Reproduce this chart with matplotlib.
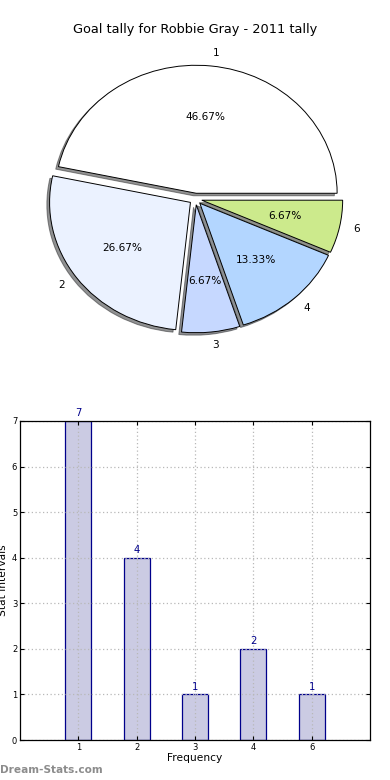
"""Goal tally pie + bar chart (Robbie Gray, 2011)."""

import matplotlib

matplotlib.use("Agg")
import matplotlib.pyplot as plt


LABELS = ["1", "2", "3", "4", "6"]
COUNTS = [7, 4, 1, 2, 1]
PIE_COLORS = ["#ffffff", "#ebf2ff", "#c6d8ff", "#b3d6ff", "#ccea8c"]
EXPLODE = [0.045, 0.045, 0.045, 0.045, 0.045]
Y_TICKS = [0, 1, 2, 3, 4, 5, 6, 7]

TITLE = "Goal tally for Robbie Gray - 2011 tally"
NAVY = "#00008b"

fig = plt.figure(figsize=(3.9, 7.8), dpi=100)

# pie (stretched like the original, not circular)
ax_pie = fig.add_axes([0.05, 1 - 359 / 780, 0.903, 320 / 780])
wedges, texts, autotexts = ax_pie.pie(
    COUNTS,
    labels=LABELS,
    colors=PIE_COLORS,
    explode=EXPLODE,
    autopct="%1.2f%%",
    shadow={"ox": -0.014, "oy": -0.014, "shade": 0.85},
    startangle=0,
    wedgeprops={"edgecolor": "black", "linewidth": 0.7},
    textprops={"fontsize": 7.6},
)
ax_pie.set_aspect("auto")
ax_pie.set_xlim(-1.25, 1.25)
ax_pie.set_ylim(-1.25, 1.25)
fig.text(0.5, 1 - 30 / 780, TITLE, ha="center", va="center", fontsize=9.3)

# bar chart
ax = fig.add_axes([20 / 390, 40 / 780, 350 / 390, 319 / 780])
positions = list(range(1, len(LABELS) + 1))
ax.bar(positions, COUNTS, width=0.45, color="#cbcbe3", edgecolor=NAVY, linewidth=0.9, zorder=1)
for x, v in zip(positions, COUNTS):
    ax.annotate(str(v), (x, v), xytext=(0, 2), textcoords="offset points",
                ha="center", va="bottom", color=NAVY, fontsize=7.2)
ax.set_xlim(0, len(LABELS) + 1)
ax.set_ylim(0, 7)
ax.set_xticks(positions)
ax.set_xticklabels(LABELS)
ax.set_yticks(Y_TICKS)
ax.tick_params(direction="in", top=True, right=True, labelsize=6, length=3, pad=2)
ax.grid(True, color="#b8b8b8", linestyle=(0, (1, 2)), linewidth=0.9, zorder=2)
ax.set_axisbelow(False)
for spine in ax.spines.values():
    spine.set_linewidth(0.9)
    spine.set_zorder(4)
ax.set_xlabel("Frequency", fontsize=7.7, labelpad=1)
ax.set_ylabel("Stat Intervals", fontsize=7.7)
ax.yaxis.set_label_coords(-0.034, 0.5)

fig.text(0.0, 1 - 770 / 780, "Dream-Stats.com", ha="left", va="center",
         fontsize=7.6, color="#8c8c8c", fontweight="bold")

fig.savefig("out.png", dpi=100)
